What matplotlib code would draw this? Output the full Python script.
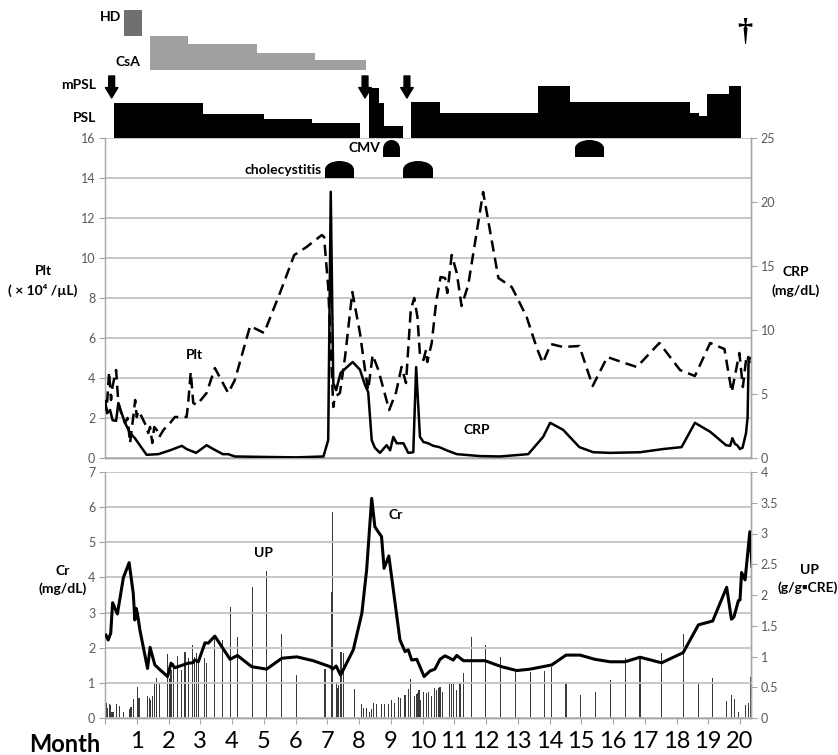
import matplotlib
matplotlib.use("Agg")
import matplotlib.pyplot as plt
from matplotlib.patches import Rectangle, Ellipse

# ---------------- data ----------------
# Platelets (x10^4/uL), month
plt_month = [0.00, 0.05, 0.13, 0.19, 0.24, 0.35, 0.42, 0.53, 0.63, 0.71, 0.79, 0.89, 0.95, 1.00, 1.05,
             1.16, 1.31, 1.36, 1.42, 1.49, 1.55, 1.63, 1.71, 1.84, 2.05, 2.20, 2.57, 2.62, 2.70, 2.78,
             2.89, 3.20, 3.46, 3.88, 4.09, 4.57, 5.01, 5.51, 5.96, 6.35, 6.83, 6.90, 7.03, 7.19, 7.24,
             7.40, 7.56, 7.79, 8.03, 8.19, 8.29, 8.43, 8.61, 8.95, 9.17, 9.34, 9.48, 9.63, 9.74, 9.84,
             9.92, 10.03, 10.11, 10.15, 10.29, 10.43, 10.57, 10.71, 10.78, 10.92, 11.08, 11.23, 11.44,
             11.91, 12.39, 12.81, 12.97, 13.28, 13.60, 13.79, 14.04, 14.43, 14.94, 15.36, 15.82, 16.27,
             16.75, 17.46, 18.11, 18.58, 19.06, 19.51, 19.74, 19.98, 20.09, 20.19, 20.23, 20.26, 20.31]
plt_value = [2.9, 2.4, 4.3, 2.9, 3.6, 4.4, 2.75, 2.15, 1.75, 2.0, 0.75, 2.05, 2.9, 2.05, 2.35,
             2.05, 1.55, 1.25, 1.55, 0.75, 1.55, 1.4, 1.05, 1.4, 1.75, 2.05, 2.05, 2.75, 4.3, 2.75,
             2.65, 3.25, 4.5, 3.25, 3.9, 6.6, 6.25, 8.25, 10.15, 10.55, 11.15, 11.05, 8.55, 2.55, 3.05,
             3.25, 5.05, 8.3, 6.25, 4.4, 3.4, 5.15, 4.4, 2.4, 3.3, 4.55, 3.75, 7.4, 8.0, 7.05,
             5.15, 4.9, 5.4, 4.8, 5.75, 7.8, 9.05, 9.0, 8.25, 10.15, 9.25, 7.6, 8.65,
             13.3, 9.0, 8.55, 8.05, 7.05, 5.5, 4.75, 5.7, 5.55, 5.6, 3.6, 5.05, 4.8,
             4.55, 5.75, 4.4, 4.1, 5.75, 5.45, 3.3, 5.25, 3.55, 4.9, 4.75, 5.05, 4.75]

# CRP (mg/dL), month
crp_month = [0.00, 0.07, 0.16, 0.24, 0.35, 0.42, 0.49, 0.63, 0.79, 0.94, 1.31, 1.68, 2.05, 2.42, 2.57,
             2.87, 3.20, 3.41, 3.71, 3.88, 4.09, 5.09, 6.04, 6.88, 7.03, 7.11, 7.19, 7.28, 7.42, 7.80,
             8.03, 8.19, 8.29, 8.40, 8.50, 8.66, 8.87, 8.98, 9.08, 9.19, 9.40, 9.55, 9.71, 9.80, 9.92,
             10.03, 10.18, 10.34, 10.53, 10.76, 11.08, 11.81, 12.44, 13.33, 13.80, 14.02, 14.43, 14.94,
             15.38, 15.91, 16.85, 17.58, 18.16, 18.58, 19.06, 19.56, 19.69, 19.76, 19.84, 19.91, 20.00,
             20.08, 20.19, 20.24, 20.27, 20.31]
crp_value = [4.3, 3.5, 3.75, 2.95, 2.9, 4.3, 3.75, 2.75, 1.95, 1.55, 0.25, 0.3, 0.6, 0.95, 0.7,
             0.4, 1.0, 0.7, 0.3, 0.3, 0.12, 0.08, 0.05, 0.12, 1.4, 20.8, 5.85, 5.3, 6.65, 7.5,
             6.9, 5.7, 5.15, 1.4, 0.8, 0.4, 1.0, 0.6, 1.65, 1.15, 1.15, 0.4, 0.45, 7.1, 1.65,
             1.25, 1.15, 0.95, 0.85, 0.6, 0.3, 0.15, 0.12, 0.3, 1.65, 2.75, 2.2, 0.85,
             0.45, 0.4, 0.45, 0.7, 0.85, 2.75, 2.05, 1.0, 0.95, 1.55, 1.1, 1.0, 0.7,
             0.8, 1.95, 3.2, 7.65, 7.8]

# Creatinine (mg/dL), month
cr_month = [0.03, 0.10, 0.18, 0.24, 0.39, 0.58, 0.76, 0.89, 0.94, 0.98, 1.02, 1.10, 1.34, 1.42, 1.57,
            1.71, 1.97, 2.08, 2.20, 2.62, 2.76, 2.83, 2.94, 3.15, 3.25, 3.46, 3.94, 4.17, 4.62, 5.09,
            5.57, 6.04, 6.56, 7.09, 7.17, 7.28, 7.42, 7.82, 8.09, 8.24, 8.40, 8.50, 8.71, 8.79, 8.94,
            9.29, 9.45, 9.55, 9.66, 9.82, 9.92, 10.05, 10.24, 10.39, 10.55, 10.71, 10.97, 11.08, 11.29,
            11.97, 12.49, 12.97, 13.39, 14.07, 14.52, 14.96, 15.43, 15.91, 16.38, 16.85, 17.53, 18.21,
            18.69, 19.14, 19.58, 19.73, 19.81, 19.95, 20.00, 20.05, 20.16, 20.31, 20.38]
cr_value = [2.36, 2.22, 2.41, 3.28, 2.96, 4.0, 4.42, 3.55, 2.79, 3.12, 2.98, 2.5, 1.41, 2.01, 1.51,
            1.39, 1.18, 1.56, 1.43, 1.56, 1.57, 1.65, 1.6, 2.14, 2.13, 2.33, 1.67, 1.78, 1.46, 1.39,
            1.7, 1.74, 1.63, 1.46, 1.39, 1.48, 1.22, 1.94, 2.98, 4.21, 6.25, 5.44, 5.16, 4.26, 4.61,
            2.22, 1.89, 1.94, 1.65, 1.67, 1.46, 1.18, 1.34, 1.39, 1.67, 1.77, 1.65, 1.78, 1.63,
            1.63, 1.46, 1.35, 1.39, 1.51, 1.79, 1.79, 1.67, 1.6, 1.6, 1.73, 1.57, 1.86,
            2.65, 2.76, 3.72, 2.81, 2.88, 3.34, 3.36, 4.14, 3.93, 5.3, 4.31]

# Urinary protein (g/gCRE), month
up_month = [0.03, 0.07, 0.14, 0.18, 0.22, 0.26, 0.37, 0.45, 0.58, 0.76, 0.82, 0.91, 1.03, 1.07, 1.34,
            1.39, 1.42, 1.50, 1.57, 1.63, 1.73, 1.97, 2.03, 2.08, 2.15, 2.29, 2.42, 2.52, 2.62, 2.75,
            2.81, 2.89, 2.94, 3.13, 3.20, 3.46, 3.71, 3.94, 4.17, 4.64, 5.09, 5.57, 6.02, 6.93, 7.14,
            7.17, 7.28, 7.32, 7.36, 7.42, 7.46, 7.51, 7.86, 8.09, 8.14, 8.24, 8.32, 8.40, 8.47, 8.54,
            8.71, 8.79, 8.94, 9.03, 9.13, 9.24, 9.32, 9.45, 9.55, 9.63, 9.76, 9.82, 9.85, 9.89, 9.95,
            10.03, 10.13, 10.18, 10.29, 10.37, 10.45, 10.50, 10.55, 10.62, 10.84, 10.92, 10.99, 11.08,
            11.18, 11.29, 11.53, 11.99, 12.46, 12.94, 13.39, 13.84, 14.07, 14.52, 14.98, 15.44, 15.91,
            16.40, 16.85, 17.53, 18.21, 18.69, 19.14, 19.58, 19.73, 19.83, 19.95, 20.16, 20.28, 20.32]
up_value = [0.24, 0.17, 0.22, 0.21, 0.10, 0.09, 0.23, 0.20, 0.09, 0.15, 0.18, 0.31, 0.51, 0.32, 0.35,
            0.32, 0.29, 0.35, 0.56, 0.65, 0.57, 1.04, 0.65, 0.78, 0.89, 1.01, 0.78, 1.08, 0.97, 1.19,
            1.00, 1.06, 0.92, 0.97, 0.90, 1.32, 1.27, 1.80, 1.31, 2.13, 2.39, 1.37, 0.70, 0.79, 2.05,
            3.35, 0.59, 0.48, 0.54, 1.08, 1.08, 1.06, 0.47, 0.22, 0.17, 0.17, 0.09, 0.14, 0.24, 0.22,
            0.22, 0.22, 0.22, 0.29, 0.24, 0.34, 0.32, 0.37, 0.47, 0.63, 0.35, 0.39, 0.41, 0.46, 0.29,
            0.43, 0.41, 0.43, 0.35, 0.48, 0.46, 0.48, 0.50, 0.43, 0.58, 0.56, 0.55, 0.46,
            0.57, 0.73, 1.32, 1.19, 1.00, 0.75, 0.75, 0.76, 0.83, 0.55, 0.37, 0.42, 0.62,
            0.97, 0.97, 1.06, 1.37, 0.55, 0.65, 0.28, 0.38, 0.31, 0.10, 0.21, 0.25, 0.67]

# Treatment timeline (month start / end, relative dose level)
hd_period = [0.60, 1.17]
csa_start = [1.42, 2.61, 4.79, 6.61]
csa_end = [2.61, 4.79, 6.61, 8.22]
csa_level = [34, 26, 17, 10]
psl_start = [0.28, 3.09, 5.01, 6.52, 8.31, 8.63, 8.79, 9.64, 10.55, 13.64, 14.65, 18.43, 18.71, 18.96, 19.65]
psl_end = [3.09, 5.01, 6.52, 8.03, 8.63, 8.79, 9.39, 10.55, 13.64, 14.65, 18.43, 18.71, 18.96, 19.65, 20.03]
psl_level = [35, 24, 19, 15, 50, 35, 12, 36, 25, 52, 36, 25, 22, 44, 52]
mpsl_month = [0.21, 8.19, 9.51]
death_month = 20.16

# Infection episodes (start, end, row)
event_start = [6.93, 8.76, 9.39, 14.80]
event_end = [7.84, 9.29, 10.33, 15.72]
event_row = [14.0, 15.05, 14.0, 15.05]

month_ticks = list(range(1, 21))
month_labels = [str(m) for m in month_ticks]

# ---------------- figure ----------------
W, H = 838, 755
fig = plt.figure(figsize=(W / 100, H / 100), dpi=100)
FONT = "Lato"
plt.rcParams["font.family"] = [FONT, "DejaVu Sans"]

L, R = 105, 751
XMAX = (R - L) / 31.75

def ax_rect(top, bottom):
    return [L / W, 1 - bottom / H, (R - L) / W, (bottom - top) / H]

GRID = "#c4c4c4"
SPINE = "#a6a6a6"
TICKC = "#595959"
BFS = 10  # bold label size

# timeline axes
axt = fig.add_axes(ax_rect(0, 138))
axt.set_xlim(0, XMAX)
axt.set_ylim(0, 138)
axt.axis("off")
axt.bar(hd_period[0], 26, width=hd_period[1] - hd_period[0], bottom=102, align="edge", color="#707070")
axt.bar(csa_start, csa_level, width=[e - s for s, e in zip(csa_start, csa_end)], bottom=68,
        align="edge", color="#a0a0a0")
axt.bar(psl_start, psl_level, width=[e - s for s, e in zip(psl_start, psl_end)], bottom=0,
        align="edge", color="black")
for m in mpsl_month:
    axt.annotate("", xy=(m, 40), xytext=(m, 62),
                 arrowprops=dict(arrowstyle="simple,head_length=0.75,head_width=0.9,tail_width=0.42",
                                 color="black", shrinkA=0, shrinkB=0), annotation_clip=False)
axt.text(death_month, 106, "\u2020", family="Liberation Serif", fontweight="bold", fontsize=22,
         ha="center", va="center")
lbl = dict(fontweight="bold", fontsize=BFS, ha="right", va="center")
axt.text(0.52, 121, "HD", **lbl)
axt.text(1.1, 76, "CsA", **lbl)
axt.text(-0.27, 53, "mPSL", **lbl)
axt.text(-0.27, 20, "PSL", **lbl)

def style_axes(ax, right=False):
    for s in ["top"]:
        ax.spines[s].set_visible(False)
    for s in ["left", "right", "bottom"]:
        ax.spines[s].set_color(SPINE)
        ax.spines[s].set_linewidth(1.0)
    ax.tick_params(axis="y", direction="out", length=4, color=SPINE, labelcolor=TICKC,
                   labelsize=9, pad=3)

# top panel: Plt / CRP
ax1 = fig.add_axes(ax_rect(138, 458))
ax1.set_xlim(0, XMAX)
ax1.set_ylim(0, 16)
ax1.set_yticks(range(0, 17, 2))
ax1.grid(axis="y", color=GRID, linewidth=1.3)
ax1.set_axisbelow(True)
ax1.set_xticks([])
style_axes(ax1)
ax1.plot(plt_month, plt_value, color="black", lw=1.8, linestyle=(0, (4.5, 2.5)), zorder=3)

ax1r = ax1.twinx()
ax1r.set_ylim(0, 25)
ax1r.set_yticks(range(0, 26, 5))
style_axes(ax1r)
ax1r.spines["left"].set_visible(False)
ax1r.plot(crp_month, crp_value, color="black", lw=1.8, zorder=3)

for s, e, r in zip(event_start, event_end, event_row):
    h = 0.85
    ax1.add_patch(Rectangle((s, r), e - s, h * 0.5, color="black", lw=0))
    ax1.add_patch(Ellipse(((s + e) / 2, r + h * 0.5), e - s, h, color="black", lw=0))
ax1.text(6.84, 14.4, "cholecystitis", fontweight="bold", fontsize=BFS, ha="right", va="center")
ax1.text(8.68, 15.5, "CMV", fontweight="bold", fontsize=BFS, ha="right", va="center")
ax1.text(2.83, 5.15, "Plt", fontweight="bold", fontsize=BFS, ha="center", va="center")
ax1.text(11.72, 1.4, "CRP", fontweight="bold", fontsize=BFS, ha="center", va="center")

# bottom panel: Cr / UP
ax2 = fig.add_axes(ax_rect(472, 718))
ax2r = ax2.twinx()
ax2.set_zorder(ax2r.get_zorder() + 1)
ax2.patch.set_visible(False)
ax2.set_xlim(0, XMAX)
ax2.set_ylim(0, 7)
ax2.set_yticks(range(0, 8))
ax2.grid(axis="y", color=GRID, linewidth=1.3)
style_axes(ax2)
ax2.set_xticks(range(0, 21))
ax2.set_xticklabels([""] + month_labels)
ax2.tick_params(axis="x", direction="out", length=4, color=SPINE, labelsize=17, pad=5,
                labelcolor="black")
ax2.plot(cr_month, cr_value, color="black", lw=2.2, zorder=3)

ax2r.set_ylim(0, 4)
ax2r.set_yticks([0, 0.5, 1, 1.5, 2, 2.5, 3, 3.5, 4])
ax2r.set_yticklabels(["0", "0.5", "1", "1.5", "2", "2.5", "3", "3.5", "4"])
style_axes(ax2r)
ax2r.spines["left"].set_visible(False)
ax2r.bar(up_month, up_value, width=0.035, color="#3a3a3a", lw=0)

ax2.text(4.98, 4.7, "UP", fontweight="bold", fontsize=BFS, ha="center", va="center")
ax2.text(9.17, 5.78, "Cr", fontweight="bold", fontsize=BFS, ha="center", va="center")

# side labels
def ftext(x, y, s, **kw):
    fig.text(x / W, 1 - y / H, s, ha="center", va="center", fontweight="bold", fontsize=BFS, **kw)

ftext(43, 271, "Plt")
ftext(43, 290, "( \u00d7 10\u2074 /\u00b5L)")
ftext(796, 272, "CRP")
ftext(796, 291, "(mg/dL)")
ftext(63, 571, "Cr")
ftext(63, 589, "(mg/dL)")
ftext(809, 570, "UP")
ftext(808, 588, "(g/g\u25aaCRE)")
fig.text(65 / W, 1 - 744 / H, "Month", ha="center", va="center", fontweight="bold", fontsize=17)

fig.savefig("out.png", dpi=100)
